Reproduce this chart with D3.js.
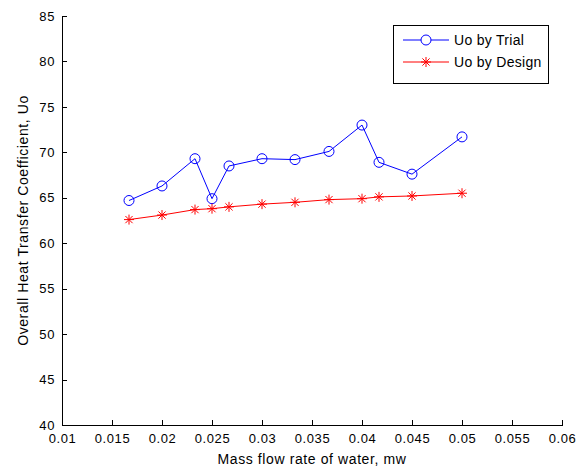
<!DOCTYPE html>
<html><head><meta charset="utf-8">
<script src="https://cdn.jsdelivr.net/npm/d3@7"></script>
<style>body{margin:0;background:#fff}svg{display:block}</style>
</head><body>
<script>
const flowRates = [0.0167, 0.02, 0.0233, 0.025, 0.0267, 0.03, 0.0333, 0.0367, 0.04, 0.0417, 0.045, 0.05];
const uoTrial  = [64.7, 66.3, 69.3, 64.9, 68.5, 69.3, 69.2, 70.1, 73.0, 68.9, 67.6, 71.7];
const uoDesign = [62.6, 63.1, 63.7, 63.8, 64.0, 64.3, 64.5, 64.8, 64.9, 65.1, 65.2, 65.5];
const xTicks = [0.01, 0.015, 0.02, 0.025, 0.03, 0.035, 0.04, 0.045, 0.05, 0.055, 0.06];
const yTicks = [40, 45, 50, 55, 60, 65, 70, 75, 80, 85];
const seriesNames = ["Uo by Trial", "Uo by Design"];

const W = 587, H = 470;
const L = 62, R = 562, T = 16, B = 425;
const font = "'Liberation Sans', Arial, sans-serif";
const svg = d3.select("body").append("svg").attr("width", W).attr("height", H)
  .style("font-family", font);

const x = d3.scaleLinear().domain([0.01, 0.06]).range([L, R]);
const y = d3.scaleLinear().domain([40, 85]).range([B, T]);

const xAxis = d3.axisBottom(x).tickValues(xTicks).tickSizeInner(-5).tickSizeOuter(0)
  .tickPadding(9).tickFormat(d => String(+d.toFixed(3)));
const yAxis = d3.axisLeft(y).tickValues(yTicks).tickSizeInner(-5).tickSizeOuter(0)
  .tickPadding(7).tickFormat(d => d);

const gx = svg.append("g").attr("transform", `translate(0,${B})`).call(xAxis);
const gy = svg.append("g").attr("transform", `translate(${L},0)`).call(yAxis);
[gx, gy].forEach(g => {
  g.selectAll("path,line").attr("stroke", "#000").attr("stroke-width", 1).attr("shape-rendering", "crispEdges");
  g.selectAll("text").attr("font-size", 13).attr("fill", "#000").style("font-family", font)
    .style("letter-spacing", "0.6px");
});

svg.append("text").attr("x", (L + R) / 2).attr("y", 464).attr("text-anchor", "middle")
  .attr("font-size", 14).style("letter-spacing", "0.6px").text("Mass flow rate of water, mw");
svg.append("text").attr("transform", `translate(28,${(T + B) / 2}) rotate(-90)`)
  .attr("text-anchor", "middle").attr("font-size", 14).style("letter-spacing", "0.6px")
  .text("Overall Heat Transfer Coefficient, Uo");

const line = d3.line().x(d => x(d[0])).y(d => y(d[1]));
const trial = flowRates.map((f, i) => [f, uoTrial[i]]);
const design = flowRates.map((f, i) => [f, uoDesign[i]]);

function star(g, cx, cy, r, color) {
  const a = r * 0.72;
  const segs = [[-r,0,r,0],[0,-r,0,r],[-a,-a,a,a],[-a,a,a,-a]];
  segs.forEach(s => g.append("line").attr("x1", cx + s[0]).attr("y1", cy + s[1])
    .attr("x2", cx + s[2]).attr("y2", cy + s[3]).attr("stroke", color).attr("stroke-width", 1));
}

svg.append("path").datum(trial).attr("d", line).attr("fill", "none").attr("stroke", "#0000ff").attr("stroke-width", 1);
svg.append("g").selectAll("circle").data(trial).join("circle")
  .attr("cx", d => x(d[0])).attr("cy", d => y(d[1])).attr("r", 5)
  .attr("fill", "none").attr("stroke", "#0000ff").attr("stroke-width", 1);

svg.append("path").datum(design).attr("d", line).attr("fill", "none").attr("stroke", "#ff0000").attr("stroke-width", 1);
const sg = svg.append("g");
design.forEach(d => star(sg, x(d[0]), y(d[1]), 5, "#ff0000"));

// legend
const lg = svg.append("g");
lg.append("rect").attr("x", 393.5).attr("y", 25.5).attr("width", 155).attr("height", 58)
  .attr("fill", "#fff").attr("stroke", "#000").attr("stroke-width", 1);
const colors = ["#0000ff", "#ff0000"];
seriesNames.forEach((name, i) => {
  const yy = 40 + i * 22;
  lg.append("line").attr("x1", 403).attr("x2", 449).attr("y1", yy).attr("y2", yy)
    .attr("stroke", colors[i]).attr("stroke-width", 1);
  if (i === 0) lg.append("circle").attr("cx", 426).attr("cy", yy).attr("r", 5)
    .attr("fill", "#fff").attr("stroke", colors[i]);
  else star(lg, 426, yy, 5, colors[i]);
  lg.append("text").attr("x", 454).attr("y", yy + 5).attr("font-size", 14)
    .style("letter-spacing", "0.3px").text(name);
});
</script>
</body></html>
